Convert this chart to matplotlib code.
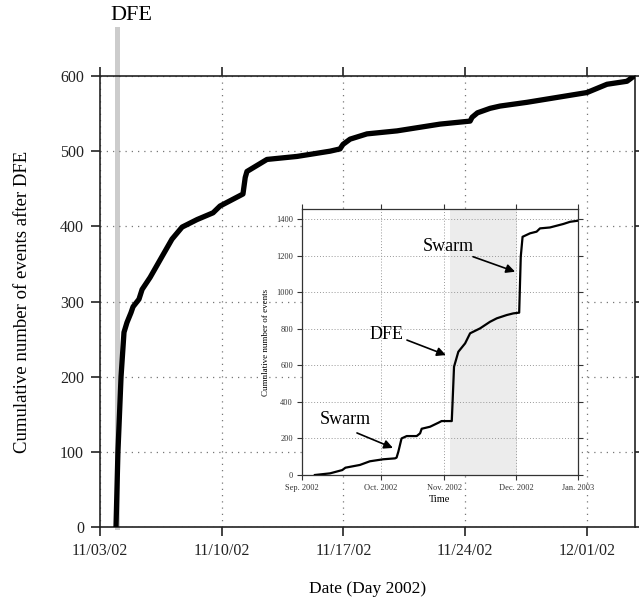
import matplotlib
matplotlib.use('Agg')
import matplotlib.pyplot as plt

plt.rcParams['font.family'] = ['Liberation Serif', 'DejaVu Serif']

# main panel: days since 11/03/02 00:00, cumulative events after the DFE
main_days = [0.92, 1.03, 1.21, 1.38, 1.55, 1.78, 1.90, 2.24, 2.42, 2.88, 3.57,
             4.14, 4.72, 5.58, 6.50, 6.90, 8.22, 8.35, 8.45, 9.60, 11.33,
             13.23, 13.80, 13.97, 14.38, 15.35, 17.08, 19.55, 21.28, 21.39,
             21.7, 22.43, 23.0, 24.55, 28.0, 29.15, 30.3, 30.65]
main_counts = [0, 99, 200, 259, 272, 285, 293, 303, 316, 332, 360,
               383, 399, 409, 418, 427, 443, 465, 473, 489, 493,
               500, 503, 509, 516, 523, 527, 536, 540, 545,
               551, 557, 560, 565, 578, 589, 593, 599]
dfe_day = 0.97
main_ticks = [0, 7, 14, 21, 28]
main_tick_labels = ['11/03/02', '11/10/02', '11/17/02', '11/24/02', '12/01/02']

# inset: time axis as drawn (Sep 2002 -> Jan 2003), cumulative events
inset_x = [5.7, 12.4, 17.8, 19.2, 25.6, 30.0, 35.9, 41.1, 41.8, 42.6, 44.0,
           46.3, 50.7, 52.2, 52.9, 56.6, 60.3, 61.7, 66.2, 66.6, 67.2, 69.1,
           72.1, 74.3, 78.7, 83.1, 86.1, 90.5, 93.4, 96.0, 96.7, 97.5,
           100.8, 103.7, 105.2, 109.6, 115.5, 118.5, 122.0]
inset_y = [0, 9, 27, 40, 55, 75, 86, 91, 95, 128, 200,
           213, 213, 228, 253, 264, 286, 295, 295, 410, 592, 674,
           720, 775, 802, 838, 857, 875, 884, 888, 1194, 1303,
           1322, 1331, 1349, 1354, 1373, 1385, 1391]
inset_ticks = [0, 34.9, 62.9, 94.6, 122]
inset_tick_labels = ['Sep. 2002', 'Oct. 2002', 'Nov. 2002', 'Dec. 2002', 'Jan. 2003']
shade = (65.4, 95.0)

fig = plt.figure(figsize=(6.39, 6.03), dpi=100)
ax = fig.add_axes([100 / 639, 76 / 603, 535 / 639, 451 / 603])

ax.plot([dfe_day, dfe_day], [0, 663], color='#cccccc', lw=3.6,
        clip_on=False, zorder=1)
ax.text(1.78, 668, 'DFE', ha='center', va='bottom', fontsize=16)
ax.plot(main_days, main_counts, color='black', lw=3.8, zorder=3,
        solid_joinstyle='round')

ax.set_xlim(0, 30.76)
ax.set_ylim(0, 600)
ax.set_xticks(main_ticks)
ax.set_xticklabels(main_tick_labels)
ax.set_yticks(range(0, 601, 100))
ax.grid(True, linestyle=(0, (1, 4)), color='#777777', lw=0.9)
ax.tick_params(direction='out', top=True, right=True, length=6.5, width=1.2,
               labelsize=11.5, pad=5, colors='#222222')
for s in ax.spines.values():
    s.set_linewidth(1.2)
    s.set_color('#222222')
ax.set_xlabel('Date (Day 2002)', fontsize=12.5, labelpad=16)
ax.set_ylabel('Cumulative number of events after DFE', fontsize=13.5,
              labelpad=21)

# inset
ax2 = fig.add_axes([302 / 639, (603 - 475) / 603, 276 / 639, 266 / 603])
ax2.set_axisbelow(True)
ax2.axvspan(shade[0], shade[1], color='#ececec', zorder=0.2, lw=0)
ax2.plot(inset_x, inset_y, color='black', lw=1.6, zorder=3)
ax2.set_xlim(0, 122)
ax2.set_ylim(0, 1455)
ax2.set_xticks(inset_ticks)
ax2.set_xticklabels(inset_tick_labels)
ax2.set_yticks(range(0, 1401, 200))
ax2.grid(True, linestyle=(0, (1, 2)), color='#999999', lw=0.7)
ax2.tick_params(direction='out', top=True, right=True, length=3.5, width=0.8,
                labelsize=6, pad=3, colors='#333333')
for s in ax2.spines.values():
    s.set_linewidth(0.9)
    s.set_color('#333333')
ax2.set_xlabel('Time', fontsize=7.5, labelpad=2)
ax2.set_ylabel('Cumulative number of events', fontsize=6.5, labelpad=4)

arrow = dict(arrowstyle='-|>', color='black', lw=1.2, mutation_scale=13,
             shrinkA=0, shrinkB=0)
notes = [('Swarm', (19.0, 301), (24.3, 230), (40.2, 148)),
         ('DFE', (37.5, 766), (46.4, 738), (63.6, 656)),
         ('Swarm', (64.7, 1248), (75.6, 1194), (94.2, 1112))]
for label, txt, start, tip in notes:
    ax2.text(txt[0], txt[1], label, ha='center', va='center', fontsize=13)
    ax2.annotate('', xy=tip, xytext=start, arrowprops=arrow)

fig.savefig('out.png', dpi=100)
